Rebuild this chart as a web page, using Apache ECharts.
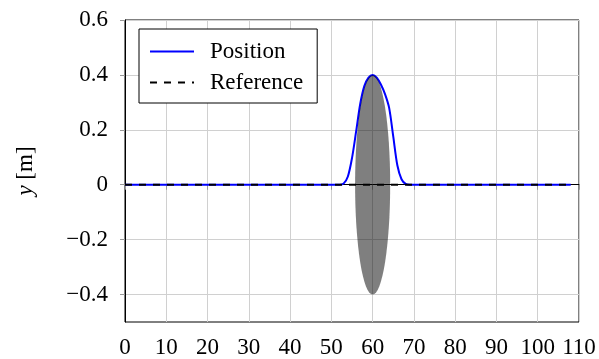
<!DOCTYPE html>
<html>
<head>
<meta charset="utf-8">
<script src="https://cdn.jsdelivr.net/npm/echarts@6/dist/echarts.min.js"></script>
<style>html,body{margin:0;padding:0;background:#fff;}#c{width:599px;height:359px;}</style>
</head>
<body>
<div id="c"></div>
<script>
// x positions and y values of the "Position" curve
const positionX = [0, 52, 53, 54, 55, 56, 57, 58, 59, 60, 61, 62, 63, 64, 65, 66, 67, 68, 69, 108];
const positionY = [0, 0, 0.005, 0.03, 0.097, 0.194, 0.295, 0.36, 0.39, 0.40, 0.39, 0.365, 0.33, 0.28, 0.175, 0.07, 0.02, 0.003, 0, 0];
// reference line
const referenceX = [0, 108];
const referenceY = [0, 0];
// ellipse: center x, center y, semi-axis x, semi-axis y
const ellipse = [60, 0, 4.25, 0.4];
// ticks
const xTickLabels = ['0','10','20','30','40','50','60','70','80','90','100','110'];
const yTickValues = [-0.4, -0.2, 0, 0.2, 0.4, 0.6];
const yTickLabels = ['\u22120.4', '\u22120.2', '0', '0.2', '0.4', '0.6'];

const FONT = 'Liberation Serif';
const FS = 23;

const chart = echarts.init(document.getElementById('c'));
chart.setOption({
  animation: false,
  backgroundColor: '#fff',
  grid: { left: 125, right: 20, top: 20, bottom: 37, show: true, borderColor: '#000', borderWidth: 1, backgroundColor: 'transparent' },
  legend: {
    data: ['Position', 'Reference'],
    orient: 'vertical',
    left: 139, top: 29,
    backgroundColor: '#fff',
    borderColor: '#000', borderWidth: 1, borderRadius: 0,
    padding: [11, 14, 9, 10],
    itemWidth: 44, itemHeight: 14, itemGap: 8,
    itemStyle: { opacity: 0 },
    textStyle: { fontFamily: FONT, fontSize: FS, color: '#000', lineHeight: 22, padding: [0, 0, 0, 11] }
  },
  xAxis: {
    type: 'value', min: 0, max: 110, interval: 10,
    axisLine: { show: true, lineStyle: { color: '#000', width: 1 } },
    axisTick: { show: true, length: 5, lineStyle: { color: '#999' } },
    axisLabel: { color: '#000', fontFamily: FONT, fontSize: FS, margin: 14,
      formatter: v => xTickLabels[Math.round(v / 10)] },
    splitLine: { show: true, lineStyle: { color: '#d0d0d0', width: 1 } }
  },
  yAxis: {
    type: 'value', min: -0.5, max: 0.6,
    name: '{i|y} [m]', nameLocation: 'middle', nameGap: 88, nameRotate: 90,
    nameTextStyle: { fontFamily: FONT, fontSize: FS, color: '#000',
      rich: { i: { fontFamily: FONT, fontSize: FS, fontStyle: 'italic', color: '#000' } } },
    axisLine: { show: true, lineStyle: { color: '#000', width: 1 } },
    axisTick: { show: true, length: 5, lineStyle: { color: '#999' }, customValues: yTickValues },
    axisLabel: { color: '#000', fontFamily: FONT, fontSize: FS, margin: 17, customValues: yTickValues,
      formatter: v => { const i = yTickValues.findIndex(t => Math.abs(t - v) < 1e-9); return i >= 0 ? yTickLabels[i] : ''; } },
    splitLine: { show: true, lineStyle: { color: '#d0d0d0', width: 1 } }
  },
  series: [
    {
      name: 'Position', type: 'line', symbol: 'none', showSymbol: false,
      smooth: 0.3,
      data: positionX.map((x, i) => [x, positionY[i]]),
      lineStyle: { color: '#0000ff', width: 2 }, itemStyle: { color: '#0000ff' }, z: 3
    },
    {
      name: 'Reference', type: 'line', symbol: 'none', showSymbol: false,
      data: referenceX.map((x, i) => [x, referenceY[i]]),
      lineStyle: { color: '#000', width: 2, type: [7, 7] }, itemStyle: { color: '#000' }, z: 4
    },
    {
      type: 'custom', silent: true, z: 5,
      data: [ellipse],
      renderItem: function (params, api) {
        const c = api.coord([api.value(0), api.value(1)]);
        const s = api.size([api.value(2), api.value(3)]);
        return {
          type: 'circle', x: c[0], y: c[1], scaleX: s[0] / s[1], scaleY: 1,
          shape: { cx: 0, cy: 0, r: s[1] },
          style: { fill: 'rgba(0,0,0,0.5)' }
        };
      }
    }
  ]
});
</script>
</body>
</html>
